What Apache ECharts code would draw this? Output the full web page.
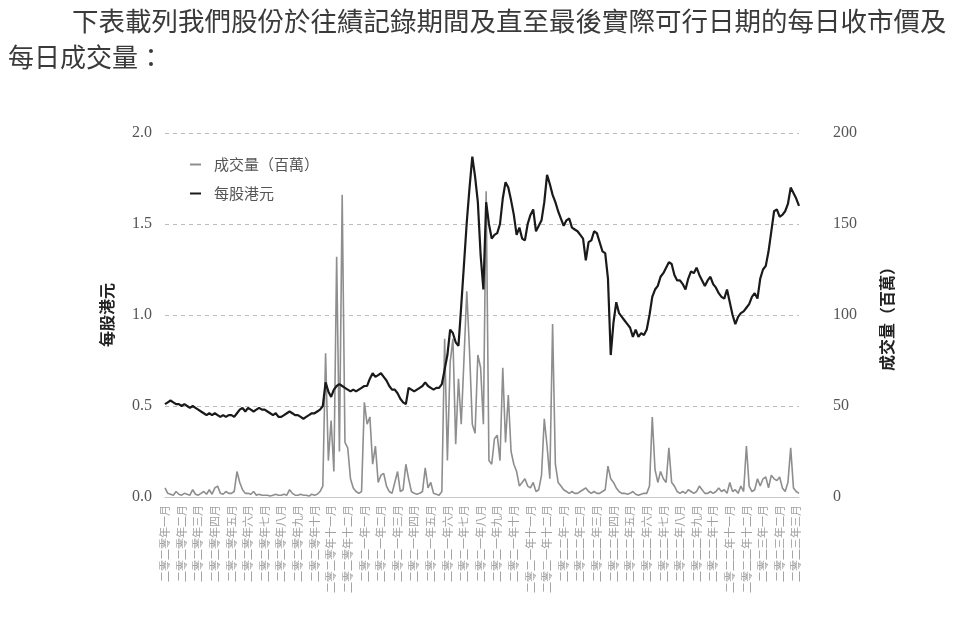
<!DOCTYPE html>
<html>
<head>
<meta charset="utf-8">
<script src="https://cdn.jsdelivr.net/npm/echarts@6/dist/echarts.min.js"></script>
<style>html,body{margin:0;padding:0;background:#fff;}#c{width:960px;height:627px;}</style>
</head>
<body>
<div id="c"></div>
<script>
// Month tick labels (one label every 6 samples)
const monthLabels = [
 '二零二零年一月','二零二零年二月','二零二零年三月','二零二零年四月','二零二零年五月','二零二零年六月',
 '二零二零年七月','二零二零年八月','二零二零年九月','二零二零年十月','二零二零年十一月','二零二零年十二月',
 '二零二一年一月','二零二一年二月','二零二一年三月','二零二一年四月','二零二一年五月','二零二一年六月',
 '二零二一年七月','二零二一年八月','二零二一年九月','二零二一年十月','二零二一年十一月','二零二一年十二月',
 '二零二二年一月','二零二二年二月','二零二二年三月','二零二二年四月','二零二二年五月','二零二二年六月',
 '二零二二年七月','二零二二年八月','二零二二年九月','二零二二年十月','二零二二年十一月','二零二二年十二月',
 '二零二三年一月','二零二三年二月','二零二三年三月'
];
const samplesPerMonth = 6;

// 每股港元 (HK$ per share), 6 readings per month
const price = [
 0.51,0.52,0.53,0.52,0.51,0.51,
 0.50,0.51,0.50,0.49,0.50,0.49,
 0.48,0.47,0.46,0.45,0.46,0.45,
 0.46,0.45,0.44,0.45,0.44,0.45,
 0.45,0.44,0.46,0.48,0.49,0.47,
 0.49,0.48,0.47,0.48,0.49,0.48,
 0.48,0.47,0.46,0.45,0.46,0.44,
 0.44,0.45,0.46,0.47,0.46,0.45,
 0.45,0.44,0.43,0.44,0.45,0.46,
 0.46,0.47,0.48,0.50,0.63,0.58,
 0.55,0.59,0.61,0.62,0.61,0.60,
 0.59,0.58,0.59,0.58,0.59,0.60,
 0.61,0.61,0.65,0.68,0.66,0.67,
 0.68,0.66,0.64,0.61,0.59,0.59,
 0.57,0.54,0.52,0.51,0.60,0.59,
 0.58,0.59,0.60,0.61,0.63,0.61,
 0.60,0.59,0.60,0.60,0.62,0.70,
 0.78,0.92,0.90,0.85,0.83,1.05,
 1.28,1.51,1.70,1.87,1.76,1.62,
 1.33,1.14,1.62,1.50,1.42,1.44,
 1.45,1.50,1.64,1.73,1.70,1.63,
 1.55,1.44,1.48,1.42,1.41,1.50,
 1.55,1.58,1.46,1.49,1.52,1.62,
 1.77,1.72,1.66,1.62,1.57,1.53,
 1.49,1.52,1.53,1.48,1.47,1.46,
 1.44,1.42,1.30,1.40,1.41,1.46,
 1.45,1.40,1.35,1.34,1.20,0.78,
 0.96,1.07,1.01,0.99,0.97,0.95,
 0.93,0.88,0.92,0.88,0.90,0.89,
 0.92,1.00,1.10,1.14,1.16,1.21,
 1.23,1.26,1.29,1.28,1.22,1.19,
 1.19,1.17,1.14,1.20,1.24,1.23,
 1.26,1.22,1.19,1.16,1.19,1.21,
 1.17,1.15,1.12,1.10,1.09,1.14,
 1.07,1.00,0.95,0.99,1.01,1.02,
 1.04,1.06,1.10,1.12,1.09,1.20,
 1.25,1.27,1.35,1.46,1.57,1.58,
 1.54,1.55,1.57,1.61,1.70,1.67,
 1.64,1.60
];

// 成交量（百萬） (volume, millions), 6 readings per month
const volume = [
 5,2,1.5,1,3,1.5,
 1,2,1.5,1,4,1.5,
 1,2,3,1.5,4,1.5,
 5,6,2,1.5,3,2,
 2,3,14,8,4,2,
 2,1.5,3,1,1.5,1,
 1,1,0.5,1,1.5,1,
 1,1.5,1,4,2,1,
 1,1.5,1,1,0.5,1.5,
 1,1.5,3,6,79,20,
 42,14,132,25,166,30,
 27,10,5,3,2,3,
 52,40,44,18,28,8,
 12,13,6,3,2,8,
 14,3,4,18,10,3,
 2,1.5,2,3,16,5,
 8,2,1.5,1,3,87,
 20,74,87,29,65,40,
 76,113,80,40,35,78,
 71,40,168,20,18,32,
 34,20,71,30,56,25,
 18,14,6,8,10,6,
 5,8,3,4,12,43,
 28,10,95,18,8,6,
 4,3,2,3,2,2,
 3,4,5,3,2,3,
 2,2,3,4,17,10,
 8,5,3,2,2,1.5,
 2,3,1.5,1,1.5,2,
 2,6,44,15,8,14,
 10,8,27,8,6,3,
 2,3,2,4,3,2,
 3,6,4,2,2,3,
 2,3,5,3,4,2,
 8,3,4,2,6,3,
 28,6,3,4,10,6,
 10,11,5,12,10,9,
 11,5,3,8,27,5,
 3,2
];

const priceTicks = {min: 0, max: 2, interval: 0.5};
const volumeTicks = {min: 0, max: 200, interval: 50};

const categories = price.map((_, i) => monthLabels[Math.floor(i / samplesPerMonth)] + '#' + (i % samplesPerMonth));

const cjk = '"Noto Sans CJK TC","Noto Sans CJK SC",sans-serif';
const serif = '"Liberation Serif","DejaVu Serif",serif';

const chart = echarts.init(document.getElementById('c'), null, {renderer: 'canvas'});
chart.setOption({
  animation: false,
  backgroundColor: '#ffffff',
  graphic: [
    {type: 'text', left: 72, top: 8, style: {text: '下表載列我們股份於往績記錄期間及直至最後實際可行日期的每日收市價及', fill: '#3a3a3a', font: '26.5px ' + cjk}},
    {type: 'text', left: 8, top: 44, style: {text: '每日成交量：', fill: '#3a3a3a', font: '26px ' + cjk}}
  ],
  legend: {
    orient: 'vertical',
    left: 185,
    top: 152,
    itemWidth: 11,
    itemHeight: 2,
    itemGap: 14,
    icon: 'rect',
    textStyle: {fontFamily: cjk, fontSize: 15, color: '#555', padding: [0, 0, 0, 8]},
    data: ['成交量（百萬）', '每股港元']
  },
  grid: {left: 165, right: 161, top: 133, bottom: 130},
  xAxis: {
    type: 'category',
    boundaryGap: false,
    data: categories,
    axisLine: {show: true, lineStyle: {color: '#c8c8c8', width: 1}},
    axisTick: {show: false},
    axisLabel: {
      interval: samplesPerMonth - 1,
      rotate: 90,
      margin: 8,
      fontFamily: cjk,
      fontSize: 11,
      color: '#a0a0a0',
      formatter: (v, idx) => monthLabels[Math.round(idx / samplesPerMonth)]
    },
    splitLine: {show: false}
  },
  yAxis: [
    {
      type: 'value',
      min: priceTicks.min, max: priceTicks.max, interval: priceTicks.interval,
      name: '每股港元',
      nameLocation: 'middle',
      nameRotate: 90,
      nameGap: 50,
      nameTextStyle: {fontFamily: cjk, fontSize: 16, fontWeight: 'bold', color: '#222'},
      axisLine: {show: false},
      axisTick: {show: false},
      axisLabel: {margin: 13, fontFamily: serif, fontSize: 16, color: '#555', formatter: v => v.toFixed(1)},
      splitLine: {show: true, lineStyle: {color: '#bdbdbd', type: [4, 4], width: 1}}
    },
    {
      type: 'value',
      min: volumeTicks.min, max: volumeTicks.max, interval: volumeTicks.interval,
      position: 'right',
      name: '成交量（百萬）',
      nameLocation: 'middle',
      nameRotate: 90,
      nameGap: 80,
      nameTextStyle: {fontFamily: cjk, fontSize: 16, fontWeight: 'bold', color: '#222'},
      axisLine: {show: false},
      axisTick: {show: false},
      axisLabel: {margin: 34, fontFamily: serif, fontSize: 16, color: '#555'},
      splitLine: {show: false}
    }
  ],
  series: [
    {
      name: '成交量（百萬）',
      type: 'line',
      yAxisIndex: 1,
      data: volume,
      showSymbol: false,
      lineStyle: {color: '#8e8e8e', width: 1.6},
      itemStyle: {color: '#8e8e8e'},
      z: 2
    },
    {
      name: '每股港元',
      type: 'line',
      yAxisIndex: 0,
      data: price,
      showSymbol: false,
      lineStyle: {color: '#1a1a1a', width: 2.2},
      itemStyle: {color: '#1a1a1a'},
      z: 3
    }
  ]
});
</script>
</body>
</html>
